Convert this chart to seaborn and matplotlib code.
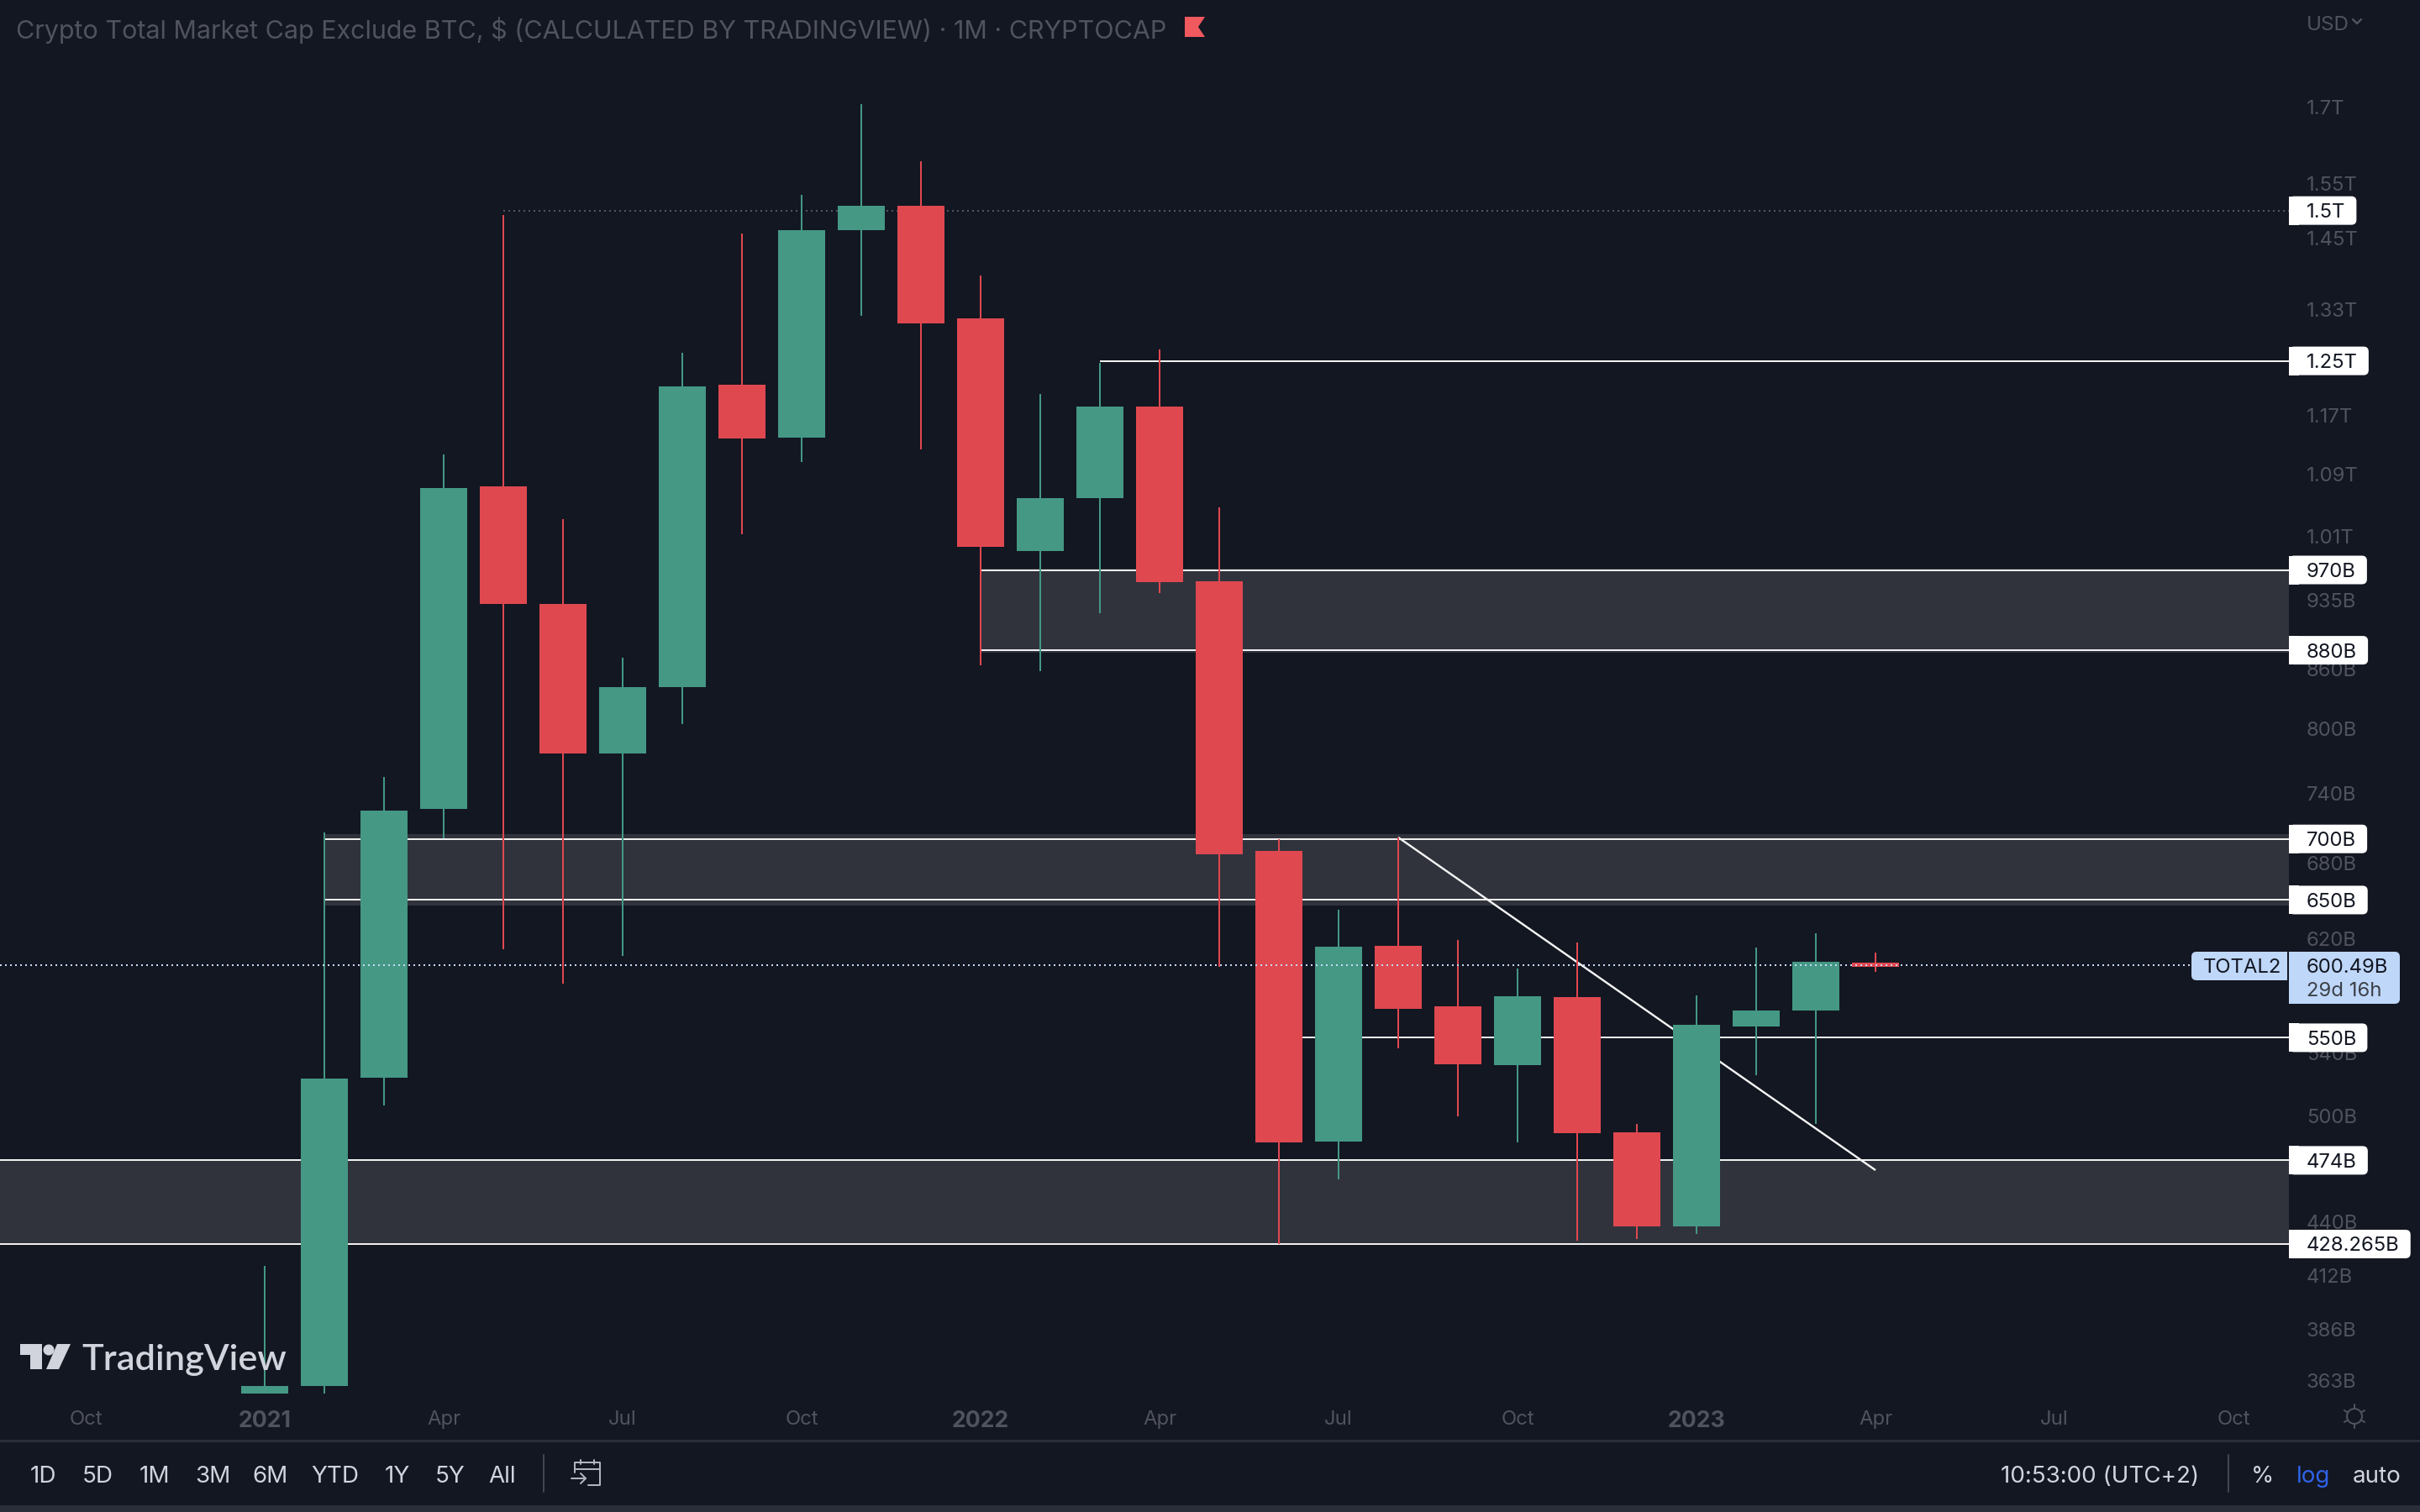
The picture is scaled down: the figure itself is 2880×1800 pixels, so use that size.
import numpy as np
import pandas as pd
import seaborn as sns
import matplotlib
matplotlib.use('Agg')
import matplotlib.pyplot as plt
from matplotlib.patches import Circle, FancyBboxPatch, Polygon, Rectangle

# monthly candles, prices in billions
MONTHS = ['2021-01', '2021-02', '2021-03', '2021-04', '2021-05', '2021-06', '2021-07', '2021-08',
          '2021-09', '2021-10', '2021-11', '2021-12', '2022-01', '2022-02', '2022-03', '2022-04',
          '2022-05', '2022-06', '2022-07', '2022-08', '2022-09', '2022-10', '2022-11', '2022-12',
          '2023-01', '2023-02', '2023-03', '2023-04']
OPEN = [357.4, 360.6, 524.2, 725.8, 1073.1, 930.9, 776.4, 841.5, 1214.2, 1139.4, 1464.0, 1508.5,
        1315.9, 992.5, 1058.3, 1182.7, 956.8, 689.9, 485.0, 614.9, 571.4, 532.1, 577.8, 490.4,
        437.5, 557.6, 568.5, 602.5]
CLOSE = [360.7, 523.2, 724.5, 1071.1, 930.9, 776.4, 841.5, 1211.9, 1137.2, 1464.0, 1508.5, 1308.6,
         997.6, 1058.3, 1182.7, 955.9, 687.1, 484.5, 614.3, 569.6, 532.6, 578.4, 489.9, 437.5,
         558.7, 568.5, 603.1, 599.5]
HIGH = [417.2, 705.6, 754.9, 1116.2, 1491.7, 1031.8, 871.9, 1262.9, 1458.5, 1528.4, 1706.8, 1592.6,
        1386.7, 1200.9, 1247.0, 1267.5, 1046.6, 699.8, 642.4, 701.3, 619.3, 598.2, 617.4, 495.4,
        579.0, 613.6, 624.4, 609.9]
LOW = [357.4, 357.4, 506.8, 700.5, 612.2, 587.5, 607.6, 804.5, 1012.7, 1105.8, 1320.8, 1122.4,
       864.1, 857.9, 920.5, 943.3, 599.5, 428.3, 463.2, 543.0, 500.0, 484.5, 430.0, 430.9,
       433.5, 525.6, 495.4, 595.8]

PRICE_TICKS = [1700, 1550, 1450, 1330, 1170, 1090, 1010, 935, 860, 800, 740, 680, 620, 540, 500,
               440, 412, 386, 363]
PRICE_LABELS = ['1.7T', '1.55T', '1.45T', '1.33T', '1.17T', '1.09T', '1.01T', '935B', '860B', '800B',
                '740B', '680B', '620B', '540B', '500B', '440B', '412B', '386B', '363B']
TIME_TICKS = [-3, 0, 3, 6, 9, 12, 15, 18, 21, 24, 27, 30, 33]
TIME_LABELS = ['Oct', '2021', 'Apr', 'Jul', 'Oct', '2022', 'Apr', 'Jul', 'Oct', '2023', 'Apr', 'Jul', 'Oct']

# drawn levels: price, first month index, tag text
LEVELS = [1250, 970, 880, 700, 650, 550, 474, 428.265]
LEVEL_START = [14, 12, 12, 1, 1, 17, -5, -5]
LEVEL_TAGS = ['1.25T', '970B', '880B', '700B', '650B', '550B', '474B', '428.265B']
ZONE_LOW = [877, 646, 427.8]
ZONE_HIGH = [972, 704, 474]
ZONE_START = [12, 1, -5]
TREND_X = [19, 27]
TREND_Y = [701.3, 468.4]
HIGH_LEVEL = 1500
LAST_PRICE = 600.49

BG = '#131722'
GREEN = '#449884'
RED = '#e04850'
ZONE = '#30333c'
GRAY = '#50535e'
SOFT = '#d1d4dc'
BLUE_TAG = '#bfd7f9'

W, H = 2880, 1800
DPI = 200
PANE_RIGHT = 2724
PANE_BOTTOM = 1665
LABEL_SIZE = 8.6
BAR_SIZE = 10


def px(n):
    return n * 72 / DPI


sns.set_theme(style='dark', rc={'figure.facecolor': BG, 'axes.facecolor': BG, 'axes.grid': False})
plt.rcParams['font.family'] = ['Inter', 'DejaVu Sans']

fig = plt.figure(figsize=(W / DPI, H / DPI), dpi=DPI, facecolor=BG)
ax = fig.add_axes([0, 1 - PANE_BOTTOM / H, PANE_RIGHT / W, PANE_BOTTOM / H])
ax.set_yscale('log')

df = pd.DataFrame({'month': MONTHS, 'open': OPEN, 'close': CLOSE, 'high': HIGH, 'low': LOW})
df['pos'] = np.arange(len(df))
df['side'] = np.where(df['close'] >= df['open'], 'up', 'down')
palette = {'up': GREEN, 'down': RED}

wicks = df.melt(id_vars=['pos', 'side'], value_vars=['high', 'low'], value_name='price')
bodies = df.melt(id_vars=['pos', 'side'], value_vars=['open', 'close'], value_name='price')

sns.lineplot(data=wicks, x='pos', y='price', hue='side', palette=palette, units='pos', estimator=None,
             linewidth=px(2), legend=False, ax=ax, solid_capstyle='butt', zorder=4)
sns.lineplot(data=bodies, x='pos', y='price', hue='side', palette=palette, units='pos', estimator=None,
             linewidth=px(56), legend=False, ax=ax, solid_capstyle='butt', zorder=5)

x_left = -315 / 71
x_right = (PANE_RIGHT - 315) / 71
for lo, hi, start in zip(ZONE_LOW, ZONE_HIGH, ZONE_START):
    ax.fill_between([start, x_right], lo, hi, color=ZONE, linewidth=0, zorder=1)
for level, start in zip(LEVELS, LEVEL_START):
    ax.plot([start, x_right], [level, level], color='#f0f0f0', lw=px(2), solid_capstyle='butt', zorder=2)
ax.plot(TREND_X, TREND_Y, color='#f4f4f4', lw=px(2.4), solid_capstyle='butt', zorder=3)
ax.plot([4, x_right], [HIGH_LEVEL, HIGH_LEVEL], color='#6a6d78', lw=px(1.5),
        linestyle=(0, (1.3, 2.7)), zorder=2)
ax.plot([x_left, (2608 - 315) / 71], [LAST_PRICE, LAST_PRICE], color='#c6daf8', lw=px(2),
        linestyle=(0, (1, 2)), zorder=6, dash_capstyle='butt')

ax.set_xlim(x_left, x_right)
ax.set_ylim(355.05, 1936.4)
ax.set_xlabel('')
ax.set_ylabel('')
sns.despine(ax=ax, left=True, bottom=True)
ax.yaxis.tick_right()
ax.set_yticks(PRICE_TICKS)
ax.set_yticklabels(PRICE_LABELS)
ax.minorticks_off()
ax.set_xticks(TIME_TICKS)
ax.set_xticklabels(TIME_LABELS)
ax.tick_params(axis='y', length=0, pad=px(21), labelsize=LABEL_SIZE, labelcolor=GRAY)
ax.tick_params(axis='x', length=0, pad=px(14), labelsize=LABEL_SIZE, labelcolor=GRAY)
for lab in ax.get_xticklabels():
    if lab.get_text().startswith('20'):
        lab.set_fontweight('bold')
        lab.set_fontsize(9.6)

# everything around the chart, in pixel coordinates
ui = fig.add_axes([0, 0, 1, 1], zorder=5)
ui.set_xlim(0, W)
ui.set_ylim(H, 0)
ui.axis('off')
ui.patch.set_alpha(0)


def price_y(price):
    return H - ax.transData.transform((0, price))[1]


def tag(x0, x1, y0, y1, color, square='left'):
    r = 6
    ui.add_patch(FancyBboxPatch((x0 + r, y0 + r), x1 - x0 - 2 * r, y1 - y0 - 2 * r, boxstyle='round,pad=%d' % r,
                                fc=color, ec='none', zorder=6))
    if square == 'left':
        ui.add_patch(Rectangle((x0, y0), 2 * r, y1 - y0, fc=color, ec='none', zorder=6))
    else:
        ui.add_patch(Rectangle((x1 - 2 * r, y0), 2 * r, y1 - y0, fc=color, ec='none', zorder=6))


# level tags
renderer = fig.canvas.get_renderer()
for level, label in zip(LEVELS + [HIGH_LEVEL], LEVEL_TAGS + ['1.5T']):
    y = price_y(level)
    t = ui.text(2745, y, label, color='#131722', fontsize=LABEL_SIZE, ha='left', va='center_baseline', zorder=7)
    width = t.get_window_extent(renderer).width
    tag(PANE_RIGHT, 2745 + width + 13, y - 17, y + 17, 'white')

# last price
tag(2608, 2722, 1133, 1167, BLUE_TAG, square='right')
ui.add_patch(Rectangle((PANE_RIGHT, 1133), 60, 40, fc=BLUE_TAG, ec='none', zorder=6))
tag(PANE_RIGHT, 2856, 1133, 1195, BLUE_TAG)
ui.text(2622, 1150, 'TOTAL2', color='#131722', fontsize=LABEL_SIZE, ha='left', va='center_baseline', zorder=7)
ui.text(2745, 1150, '600.49B', color='#131722', fontsize=LABEL_SIZE, ha='left', va='center_baseline', zorder=7)
ui.text(2745, 1178, '29d 16h', color='#3c4048', fontsize=LABEL_SIZE, ha='left', va='center_baseline', zorder=7)

# header
ui.text(19, 33, 'Crypto Total Market Cap Exclude BTC, $ (CALCULATED BY TRADINGVIEW) · 1M · CRYPTOCAP',
        color=GRAY, fontsize=10.97, ha='left', va='center_baseline')
ui.add_patch(Polygon([(1410, 20), (1434, 20), (1426, 32), (1434, 44), (1410, 44)], fc='#f0595e', ec='none'))
ui.text(2745, 27, 'USD', color=GRAY, fontsize=8.7, ha='left', va='center_baseline')
ui.plot([2800, 2805, 2810], [23, 28, 23], color=GRAY, lw=px(2.4))

# logo
ui.add_patch(Polygon([(24, 1600), (50, 1600), (50, 1630), (36, 1630), (36, 1613), (24, 1613)], fc=SOFT, ec='none'))
ui.add_patch(Circle((58, 1607), 6.5, fc=SOFT, ec='none'))
ui.add_patch(Polygon([(68, 1600), (84, 1600), (70, 1630), (55, 1630)], fc=SOFT, ec='none'))
ui.text(97, 1616, 'TradingView', color=SOFT, fontsize=15.6, fontweight='semibold', ha='left', va='center_baseline',
        family=['Lato', 'DejaVu Sans'])

# sun icon next to the time axis
ui.add_patch(Circle((2802, 1686), 9, fc='none', ec=GRAY, lw=px(2)))
for ang in np.deg2rad(np.arange(0, 360, 60) + 30):
    ui.plot([2802 + 9 * np.cos(ang), 2802 + 14 * np.cos(ang)], [1686 + 9 * np.sin(ang), 1686 + 14 * np.sin(ang)],
            color=GRAY, lw=px(2))

# toolbar
ui.add_patch(Rectangle((0, 1714), W, 2.5, fc='#2a2e39', ec='none'))
ui.add_patch(Rectangle((0, 1792), W, 8, fc='#2a2e39', ec='none'))
for x, label in zip([51, 116, 184, 253, 322, 399, 473, 536, 598],
                    ['1D', '5D', '1M', '3M', '6M', 'YTD', '1Y', '5Y', 'All']):
    ui.text(x, 1755, label, color=SOFT, fontsize=BAR_SIZE, ha='center', va='center_baseline')
ui.plot([647, 647], [1732, 1776], color='#434651', lw=px(2))
ui.plot([2652, 2652], [1732, 1776], color='#434651', lw=px(2))
ui.text(2499, 1755, '10:53:00 (UTC+2)', color=SOFT, fontsize=BAR_SIZE, ha='center', va='center_baseline')
ui.text(2692, 1755, '%', color=SOFT, fontsize=BAR_SIZE, ha='center', va='center_baseline')
ui.text(2753, 1755, 'log', color='#2f62e8', fontsize=BAR_SIZE, ha='center', va='center_baseline')
ui.text(2829, 1755, 'auto', color=SOFT, fontsize=BAR_SIZE, ha='center', va='center_baseline')

# calendar icon
ui.plot([684, 684, 714, 714, 700], [1753, 1741, 1741, 1768, 1768], color='#b2b5be', lw=px(2))
ui.plot([684, 714], [1749, 1749], color='#b2b5be', lw=px(2))
ui.plot([691, 691], [1738, 1743], color='#b2b5be', lw=px(2))
ui.plot([707, 707], [1738, 1743], color='#b2b5be', lw=px(2))
ui.plot([680, 697], [1760, 1760], color='#b2b5be', lw=px(2))
ui.plot([691, 697, 691], [1754, 1760, 1766], color='#b2b5be', lw=px(2))
ui.set_xlim(0, W)
ui.set_ylim(H, 0)

fig.savefig('out.png', dpi=DPI, facecolor=BG)
